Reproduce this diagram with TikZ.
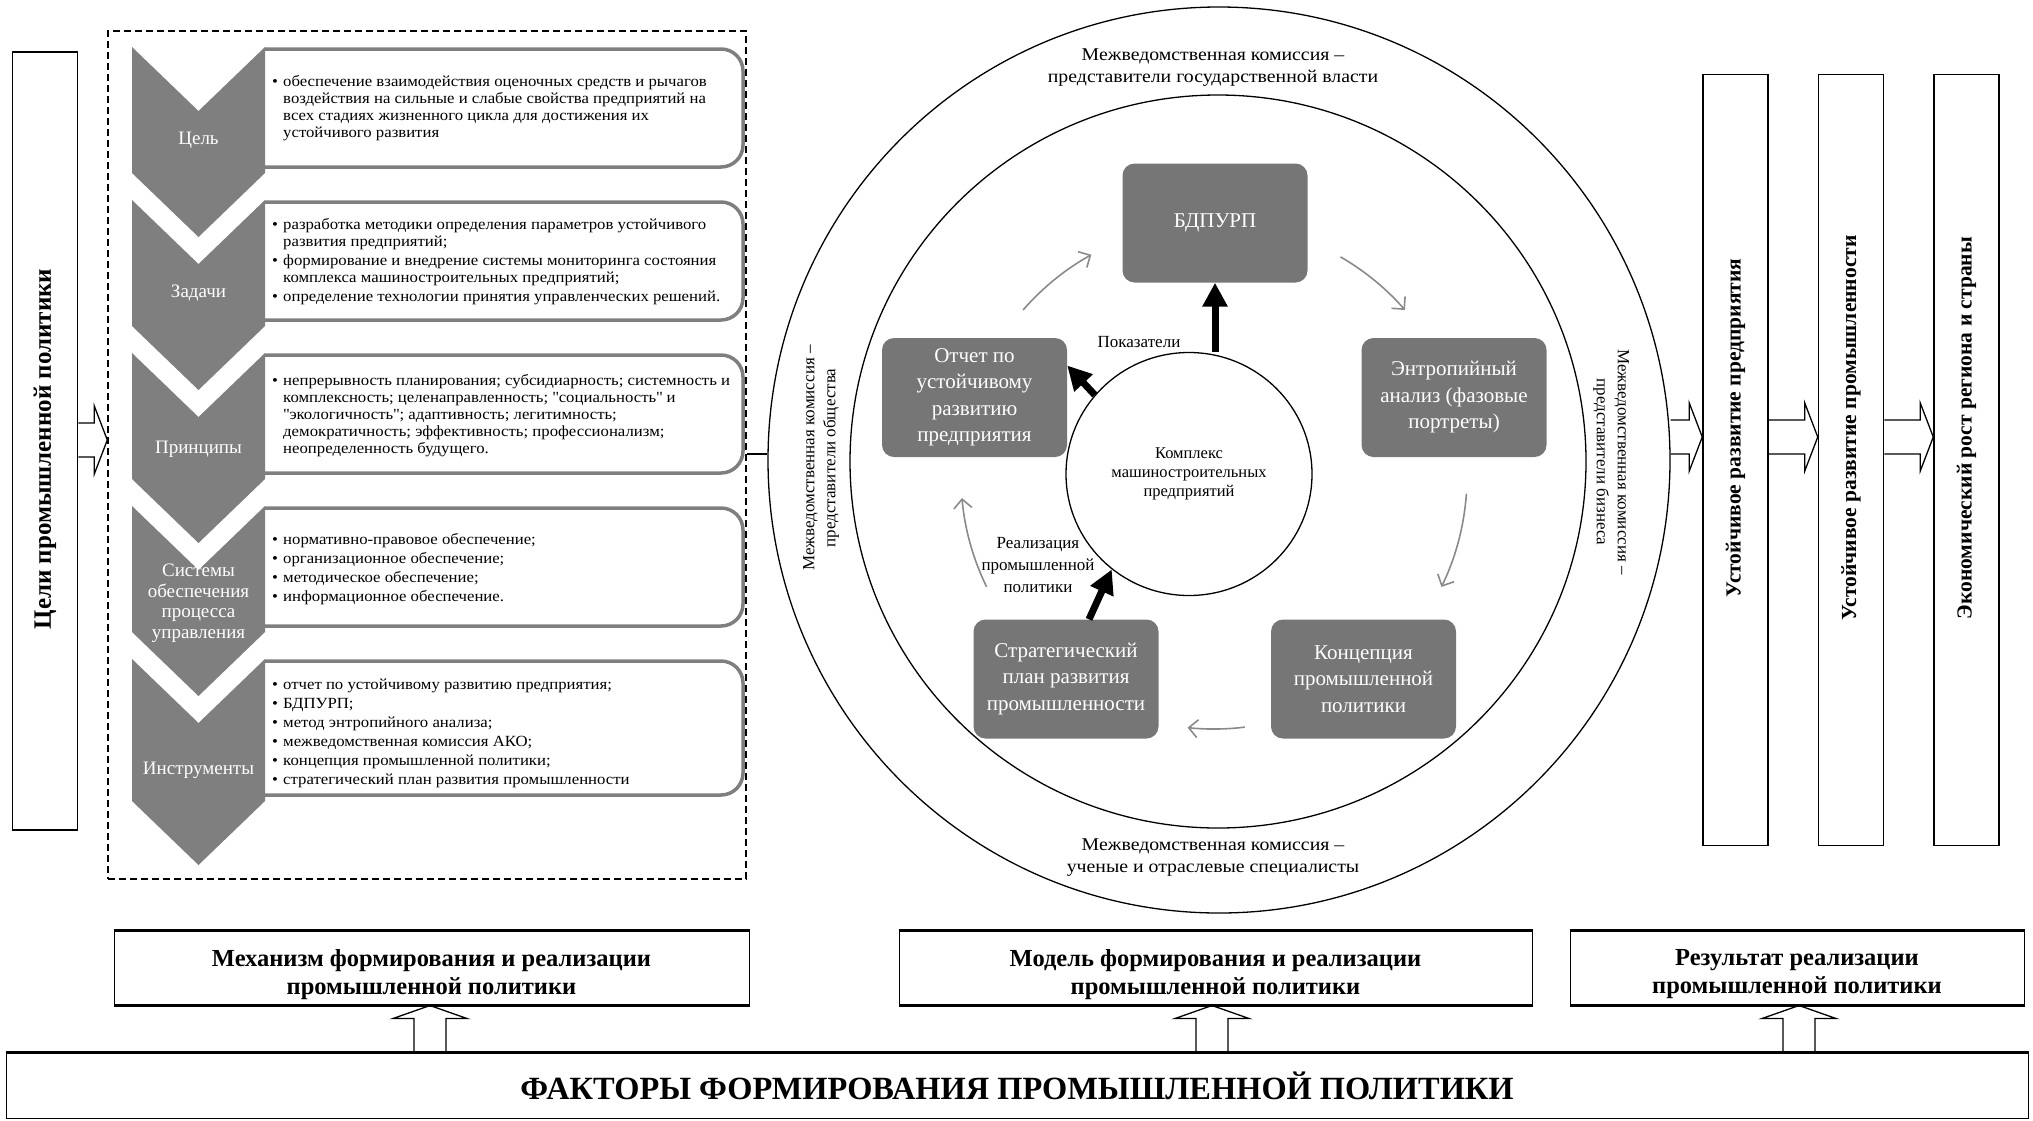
\documentclass[tikz,border=0pt]{standalone}
\usepackage{fontspec}
\setmainfont{Liberation Serif}
\newfontfamily\widefont{Liberation Serif}[FakeStretch=1.08]
\newfontfamily\widerfont{Liberation Serif}[FakeStretch=1.1]
\usepackage{graphicx}
\usetikzlibrary{arrows.meta,calc,shapes.geometric}

\definecolor{stagegray}{HTML}{7F7F7F}
\definecolor{cyclegray}{HTML}{767676}
\definecolor{flowgray}{HTML}{8A8A8A}

\tikzset{
  stage/.style={fill=stagegray},
  stagetext/.style={text=white, align=center, font=\fontsize{19}{20.5}\selectfont},
  itembox/.style={draw=stagegray, line width=3.5pt, rounded corners=22pt},
  itemtext/.style={anchor=west, align=left, inner sep=0pt, font=\widefont\fontsize{15.5}{17}\selectfont},
  cyclebox/.style={rectangle, rounded corners=12pt, fill=cyclegray, text=white, align=center,
    minimum width=185pt, minimum height=119pt, font=\fontsize{21}{26.5}\selectfont},
  bigarrow/.style={line width=7pt, -{Triangle[length=24pt,width=24pt]}},
  flowarrow/.style={draw=flowgray, line width=1.6pt, -{Straight Barb[length=9pt,width=18pt]}},
  hollow/.style={line width=1.3pt, line join=miter},
  tallbox/.style={draw, line width=1.5pt, minimum width=65pt, minimum height=771pt, inner sep=0pt,
    font=\bfseries\fontsize{21.5}{24}\selectfont},
  basebox/.style={draw, line width=1pt, inner sep=0pt, align=center,
    font=\bfseries\fontsize{24.5}{28}\selectfont},
  ring/.style={ellipse, draw, line width=1.3pt, inner sep=0pt},
  commission/.style={align=center, font=\widerfont\fontsize{18}{22}\selectfont},
  sidecommission/.style={align=center, font=\fontsize{17}{21}\selectfont},
  flowlabel/.style={align=center, font=\fontsize{17}{22}\selectfont},
}

\newcommand\bul{\makebox[11pt][l]{•}}
\newcommand\ind{\hspace*{11pt}}
% two-line caption set a little below the middle of its box
\newcommand\lowcaption[2]{\raisebox{-12.5pt}[0pt][0pt]{\parbox{#1}{\centering #2}}}

% block arrow to the right: start anchor, end anchor, y
\newcommand\hollowright[3]{%
  \draw[hollow] (#1 |- 0,#3-17) -- ($(#2 |- 0,#3-17)+(-13,0)$) -- ($(#2 |- 0,#3-34)+(-13,0)$)
    -- (#2 |- 0,#3) -- ($(#2 |- 0,#3+34)+(-13,0)$) -- ($(#2 |- 0,#3+17)+(-13,0)$) -- (#1 |- 0,#3+17);}
% block arrow upwards: start anchor, end anchor, x
\newcommand\hollowup[3]{%
  \draw[hollow] (#3-16,0 |- #1) -- ($(#3-16,0 |- #2)+(0,13)$) -- ($(#3-37,0 |- #2)+(0,13)$)
    -- (#3,0 |- #2) -- ($(#3+37,0 |- #2)+(0,13)$) -- ($(#3+16,0 |- #2)+(0,13)$) -- (#3+16,0 |- #1);}

\begin{document}
\begin{tikzpicture}[x=1pt,y=-1pt]
\useasboundingbox (0,0) rectangle (2033,1120);

% left column
\node[tallbox, minimum height=778pt, font=\bfseries\fontsize{25}{27}\selectfont] (goals) at (45,441)
  {\rotatebox{90}{Цели промышленной политики\hspace*{16pt}}};
\node[draw, dashed, dash pattern=on 7pt off 4pt, line width=1.4pt, minimum width=638pt,
  minimum height=848pt, inner sep=0pt] (frame) at (427,455) {};

% stages of the mechanism
\foreach \i/\lab/\ly/\side in {0/Цель/140/126, 1/Задачи/293/126, 2/Принципы/449/126,
    3/{Системы\\обеспечения\\процесса\\управления}/603/126, 4/Инструменты/770/142}{
  \pgfmathsetmacro\ctop{47+153*\i}
  \fill[stage] (132,\ctop) -- (198.5,\ctop+64) -- (265,\ctop) -- (265,\ctop+\side)
    -- (198.5,\ctop+\side+64) -- (132,\ctop+\side) -- cycle;
  \draw[itembox] (265,\ctop+2) -- (743,\ctop+2) -- (743,\ctop+\side-6) -- (265,\ctop+\side-6);
  \node[stagetext] (stage\i) at (198.5,\ly) {\lab};
}

\node[itemtext] (item0) at (272,108) {\bul обеспечение взаимодействия оценочных средств и рычагов\\
  \ind воздействия на сильные и слабые свойства предприятий на\\
  \ind всех стадиях жизненного цикла для достижения их\\
  \ind устойчивого развития};
\node[itemtext] (item1) at (272,262) {\bul разработка методики определения параметров устойчивого\\
  \ind развития предприятий;\\[2pt]
  \bul формирование и внедрение системы мониторинга состояния\\
  \ind комплекса машиностроительных предприятий;\\[2pt]
  \bul определение технологии принятия управленческих решений.};
\node[itemtext] (item2) at (272,416) {\bul непрерывность планирования; субсидиарность; системность и\\
  \ind комплексность; целенаправленность; \textquotedbl социальность\textquotedbl{} и\\
  \ind \textquotedbl экологичность\textquotedbl; адаптивность; легитимность;\\
  \ind демократичность; эффективность; профессионализм;\\
  \ind неопределенность будущего.};
\node[itemtext] (item3) at (272,569) {\bul нормативно-правовое обеспечение;\\[2pt]
  \bul организационное обеспечение;\\[2pt]
  \bul методическое обеспечение;\\[2pt]
  \bul информационное обеспечение.};
\node[itemtext] (item4) at (272,733) {\bul отчет по устойчивому развитию предприятия;\\[2pt]
  \bul БДПУРП;\\[2pt]
  \bul метод энтропийного анализа;\\[2pt]
  \bul межведомственная комиссия АКО;\\[2pt]
  \bul концепция промышленной политики;\\[2pt]
  \bul стратегический план развития промышленности};

% model: cycle around the machine-building complex
\node[cyclebox] (bdpurp) at (1215,223) {БДПУРП};
\node[cyclebox] (otchet) at (974.5,397.5) {Отчет по\\устойчивому\\развитию\\предприятия};
\node[cyclebox] (entrop) at (1454,397.5) {Энтропийный\\анализ (фазовые\\портреты)};
\node[cyclebox] (konc) at (1363.5,679) {Концепция\\промышленной\\политики};
\node[cyclebox] (strat) at (1066,679) {Стратегический\\план развития\\промышленности};
\node[ring, minimum width=246pt, minimum height=243pt, align=center,
  font=\fontsize{16.5}{19}\selectfont] (kompl) at (1189,474) {Комплекс\\машиностроительных\\предприятий};
\coordinate (hub) at (1214,476);

\node[ring, minimum width=902pt, minimum height=906pt] (outer) at (1219,460) {};
\node[ring, minimum width=736pt, minimum height=733pt] (inner) at (1218,461.5) {};

\node[commission] (govt) at (1213,68) {Межведомственная комиссия –\\представители государственной власти};
\node[commission] (sci) at (1213,858) {Межведомственная комиссия –\\ученые и отраслевые специалисты};
\node[sidecommission, rotate=90] (soc) at (821,458) {Межведомственная комиссия –\\представители общества};
\node[sidecommission, rotate=-90] (biz) at (1611,462) {Межведомственная комиссия –\\представители бизнеса};

\node[flowlabel] (pokaz) at (1139,342) {Показатели};
\node[flowlabel] (realiz) at (1038,565) {Реализация\\промышленной\\политики};

\draw[bigarrow] (bdpurp.south |- kompl.north) -- (bdpurp.south);
\draw[bigarrow] (kompl.140) -- ([yshift=32pt]otchet.east);
\draw[bigarrow] ([xshift=23pt]strat.north) -- (kompl.231);

\foreach \a/\b in {221/241, 300/319, 4/26, 83/96, 154/175}
  \draw[flowarrow] (hub) ++(\a:253) arc[start angle=\a, end angle=\b, radius=253];

% results
\node[tallbox] (r1) at (1735.5,460) {\rotatebox{90}{\hspace*{64pt}Устойчивое развитие предприятия}};
\node[tallbox] (r2) at (1851,460) {\rotatebox{90}{\hspace*{64pt}Устойчивое развитие промышленности}};
\node[tallbox] (r3) at (1966.5,460) {\rotatebox{90}{\hspace*{64pt}Экономический рост региона и страны}};

% bottom row
\node[basebox, minimum width=635pt, minimum height=74pt] (mech) at (431.5,968)
  {\lowcaption{600pt}{Механизм формирования и реализации\\промышленной политики}};
\node[basebox, minimum width=633pt, minimum height=74pt] (model) at (1215.5,968)
  {\lowcaption{600pt}{Модель формирования и реализации\\промышленной политики}};
\node[basebox, minimum width=454pt, minimum height=74pt] (result) at (1797,968)
  {\lowcaption{420pt}{Результат реализации\\промышленной политики}};
\node[basebox, minimum width=2022pt, minimum height=65pt, font=\bfseries\fontsize{32.4}{36}\selectfont]
  (factors) at (1017,1085.5) {ФАКТОРЫ ФОРМИРОВАНИЯ ПРОМЫШЛЕННОЙ ПОЛИТИКИ};

% connectors
\draw[line width=1.3pt] (frame.east |- 0,454) -- (outer.west |- 0,454);
\hollowright{goals.east}{frame.west}{440}
\hollowright{outer.east}{r1.west}{437}
\hollowright{r1.east}{r2.west}{437}
\hollowright{r2.east}{r3.west}{437}
\hollowup{factors.north}{mech.south}{430}
\hollowup{factors.north}{model.south}{1212}
\hollowup{factors.north}{result.south}{1799}

\foreach \b in {mech,model,result}
  \draw[line width=3pt] (\b.north west) -- (\b.north east) (\b.south west) -- (\b.south east);
\draw[line width=3pt] (factors.north west) -- (factors.north east);
\end{tikzpicture}
\end{document}
